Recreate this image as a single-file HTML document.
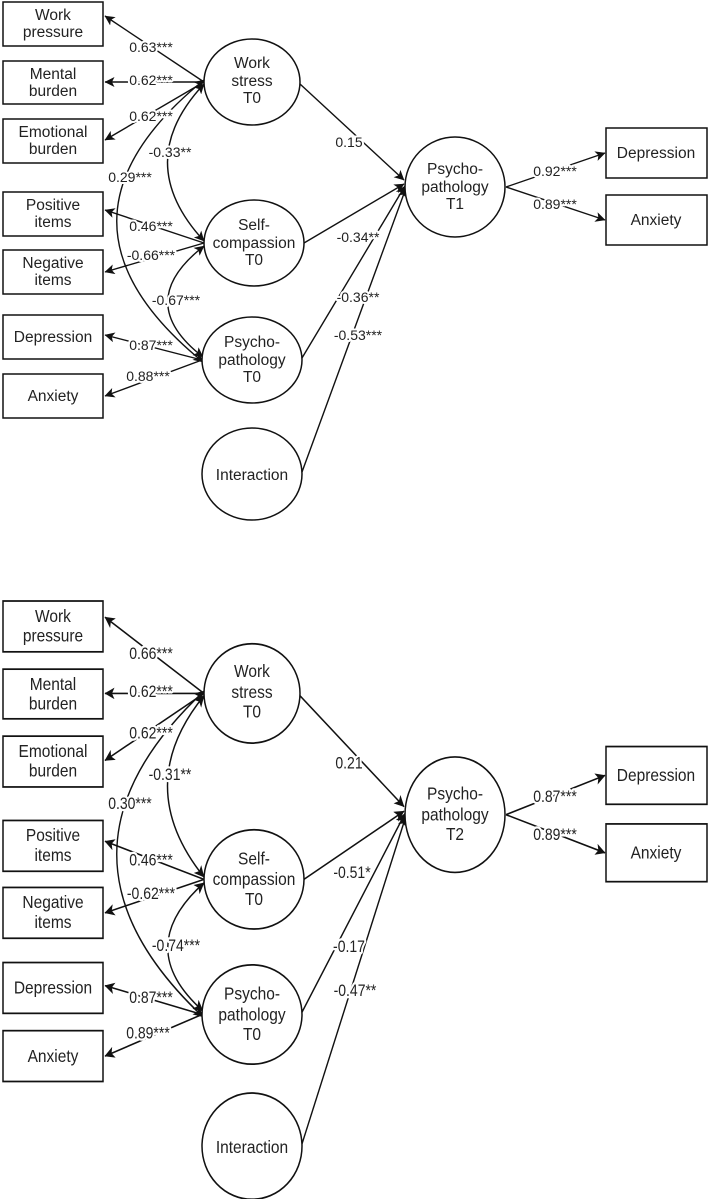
<!DOCTYPE html>
<html><head><meta charset="utf-8"><style>
html,body{margin:0;padding:0;background:#fff;}
svg{display:block;}
text{font-family:"Liberation Sans",Arial,sans-serif;font-size:15.5px;fill:#222;}
.lb{font-size:14px;paint-order:stroke;stroke:#fff;stroke-width:4px;stroke-linejoin:round;}
.ln{stroke:#111;stroke-width:1.4;fill:none;}
.sh{stroke:#111;stroke-width:1.5;fill:#fff;}
</style></head><body>
<svg width="709" height="1199" viewBox="0 0 709 1199" xmlns="http://www.w3.org/2000/svg">
<defs>
<marker id="a" viewBox="0 0 10 10" refX="9.5" refY="5" markerWidth="10" markerHeight="10" orient="auto-start-reverse" markerUnits="userSpaceOnUse">
<path d="M0,0 L10,5 L0,10 L2.5,5 z" fill="#111"/></marker>
<g id="base">
<rect class="sh" x="3" y="2" width="100" height="44"/>
<rect class="sh" x="3" y="61" width="100" height="43"/>
<rect class="sh" x="3" y="119" width="100" height="44"/>
<rect class="sh" x="3" y="192" width="100" height="44"/>
<rect class="sh" x="3" y="250" width="100" height="44"/>
<rect class="sh" x="3" y="315" width="100" height="44"/>
<rect class="sh" x="3" y="374" width="100" height="44"/>
<rect class="sh" x="606" y="128" width="101" height="50"/>
<rect class="sh" x="606" y="195" width="101" height="50"/>
<line class="ln" x1="204" y1="82" x2="105" y2="16" marker-end="url(#a)"/>
<line class="ln" x1="204" y1="82" x2="105" y2="82" marker-end="url(#a)"/>
<line class="ln" x1="204" y1="82" x2="105" y2="140" marker-end="url(#a)"/>
<line class="ln" x1="204" y1="243" x2="105" y2="210" marker-end="url(#a)"/>
<line class="ln" x1="204" y1="243" x2="105" y2="272" marker-end="url(#a)"/>
<line class="ln" x1="202" y1="360" x2="105" y2="335" marker-end="url(#a)"/>
<line class="ln" x1="202" y1="360" x2="105" y2="396" marker-end="url(#a)"/>
<path class="ln" d="M204,84 Q131,162 204,241" marker-start="url(#a)" marker-end="url(#a)"/>
<path class="ln" d="M204,246 Q132,302 203,357" marker-start="url(#a)" marker-end="url(#a)"/>
<path class="ln" d="M204,80 Q30,221 203,362" marker-start="url(#a)" marker-end="url(#a)"/>
<line class="ln" x1="300" y1="84" x2="404" y2="180" marker-end="url(#a)"/>
<line class="ln" x1="304" y1="243" x2="404" y2="184" marker-end="url(#a)"/>
<line class="ln" x1="302" y1="358" x2="405" y2="186" marker-end="url(#a)"/>
<line class="ln" x1="302" y1="472" x2="406" y2="188" marker-end="url(#a)"/>
<line class="ln" x1="506" y1="187" x2="605" y2="153" marker-end="url(#a)"/>
<line class="ln" x1="506" y1="187" x2="605" y2="220" marker-end="url(#a)"/>
<ellipse class="sh" cx="252" cy="82" rx="48" ry="43"/>
<ellipse class="sh" cx="254" cy="243" rx="50" ry="43"/>
<ellipse class="sh" cx="252" cy="360" rx="50" ry="43"/>
<ellipse class="sh" cx="252" cy="474" rx="50" ry="46"/>
<ellipse class="sh" cx="455" cy="187" rx="50" ry="50"/>
<g text-anchor="middle">
<text x="53" y="20">Work</text><text x="53" y="37">pressure</text>
<text x="53" y="79">Mental</text><text x="53" y="96">burden</text>
<text x="53" y="137">Emotional</text><text x="53" y="154">burden</text>
<text x="53" y="210">Positive</text><text x="53" y="227">items</text>
<text x="53" y="268">Negative</text><text x="53" y="285">items</text>
<text x="53" y="342">Depression</text>
<text x="53" y="401">Anxiety</text>
<text x="656" y="158">Depression</text>
<text x="656" y="225">Anxiety</text>
<text x="252" y="68">Work</text><text x="252" y="86">stress</text><text x="252" y="103">T0</text>
<text x="254" y="230">Self-</text><text x="254" y="248">compassion</text><text x="254" y="265">T0</text>
<text x="252" y="347">Psycho-</text><text x="252" y="365">pathology</text><text x="252" y="382">T0</text>
<text x="252" y="480">Interaction</text>
<text x="455" y="174">Psycho-</text><text x="455" y="192">pathology</text>
</g>
</g>
</defs>

<use href="#base"/>
<g text-anchor="middle">
<text x="455" y="209">T1</text>
<text x="151" y="52" class="lb">0.63***</text>
<text x="151" y="85" class="lb">0.62***</text>
<text x="151" y="121" class="lb">0.62***</text>
<text x="170" y="157" class="lb">-0.33**</text>
<text x="130" y="182" class="lb">0.29***</text>
<text x="151" y="231" class="lb">0.46***</text>
<text x="151" y="260" class="lb">-0.66***</text>
<text x="176" y="305" class="lb">-0.67***</text>
<text x="151" y="350" class="lb">0.87***</text>
<text x="148" y="381" class="lb">0.88***</text>
<text x="349" y="147" class="lb">0.15</text>
<text x="358" y="242" class="lb">-0.34**</text>
<text x="358" y="302" class="lb">-0.36**</text>
<text x="358" y="340" class="lb">-0.53***</text>
<text x="555" y="176" class="lb">0.92***</text>
<text x="555" y="209" class="lb">0.89***</text>
</g>

<g transform="translate(0,598.7) scale(1,1.155)">
<use href="#base"/>
<g text-anchor="middle">
<text x="455" y="209">T2</text>
<text x="151" y="52" class="lb">0.66***</text>
<text x="151" y="85" class="lb">0.62***</text>
<text x="151" y="121" class="lb">0.62***</text>
<text x="170" y="157" class="lb">-0.31**</text>
<text x="130" y="182" class="lb">0.30***</text>
<text x="151" y="231" class="lb">0.46***</text>
<text x="151" y="260" class="lb">-0.62***</text>
<text x="176" y="305" class="lb">-0.74***</text>
<text x="151" y="350" class="lb">0.87***</text>
<text x="148" y="381" class="lb">0.89***</text>
<text x="349" y="147" class="lb">0.21</text>
<text x="352" y="242" class="lb">-0.51*</text>
<text x="349" y="306" class="lb">-0.17</text>
<text x="355" y="344" class="lb">-0.47**</text>
<text x="555" y="176" class="lb">0.87***</text>
<text x="555" y="209" class="lb">0.89***</text>
</g></g>
</svg>
</body></html>
